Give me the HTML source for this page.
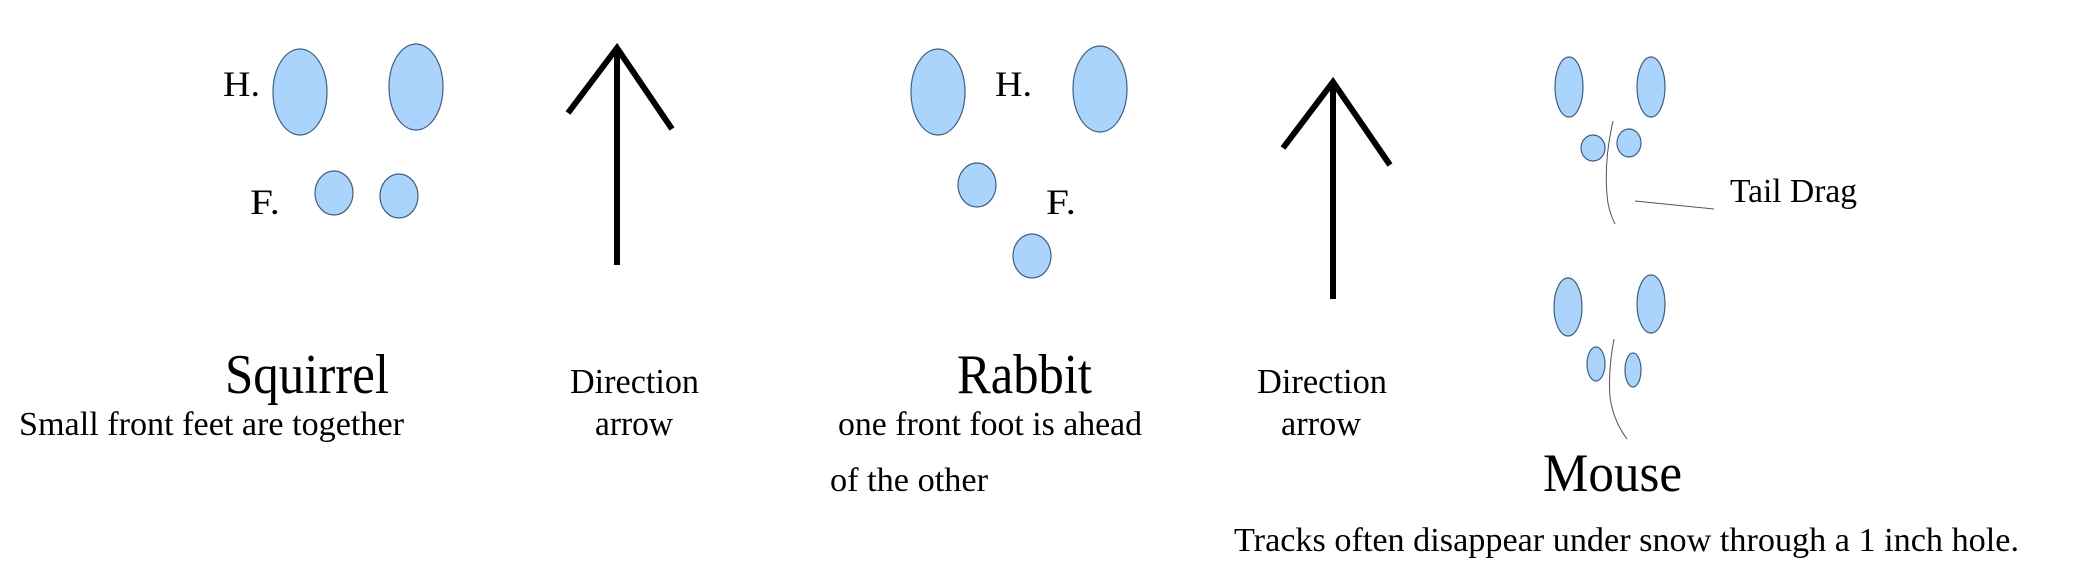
<!DOCTYPE html>
<html><head><meta charset="utf-8"><style>html,body{margin:0;padding:0;background:#fff;}svg{display:block}</style></head>
<body>
<svg width="2084" height="564" viewBox="0 0 2084 564" xmlns="http://www.w3.org/2000/svg" font-family="'Liberation Serif', serif" fill="#000">
<g fill="#aad4fb" stroke="#3f5f80" stroke-width="1.2">
<ellipse cx="300" cy="92" rx="27" ry="43"/>
<ellipse cx="416" cy="87" rx="27" ry="43"/>
<ellipse cx="334" cy="193" rx="19" ry="22"/>
<ellipse cx="399" cy="196" rx="19" ry="22"/>
<ellipse cx="938" cy="92" rx="27" ry="43"/>
<ellipse cx="1100" cy="89" rx="27" ry="43"/>
<ellipse cx="977" cy="185" rx="19" ry="22"/>
<ellipse cx="1032" cy="256" rx="19" ry="22"/>
<ellipse cx="1569" cy="87" rx="14" ry="30"/>
<ellipse cx="1651" cy="87" rx="14" ry="30"/>
<ellipse cx="1593" cy="148" rx="12" ry="13"/>
<ellipse cx="1629" cy="143" rx="12" ry="14"/>
<ellipse cx="1568" cy="307" rx="14" ry="29"/>
<ellipse cx="1651" cy="304" rx="14" ry="29"/>
<ellipse cx="1596" cy="364" rx="9" ry="17"/>
<ellipse cx="1633" cy="370" rx="8" ry="17"/>
</g>
<g stroke="#000" stroke-width="6" fill="none">
<line x1="617" y1="48" x2="617" y2="265"/>
<polyline points="568,113 617,48 672,129"/>
<line x1="1333" y1="82" x2="1333" y2="299"/>
<polyline points="1283,148 1333,82 1390,165"/>
</g>
<g stroke="#555" stroke-width="1" fill="none">
<path d="M1613,121 Q1604,160 1607,195 Q1608,210 1615,224"/>
<path d="M1614,339 Q1608,370 1610,397 Q1613,420 1627,439"/>
<line x1="1635" y1="201" x2="1714" y2="209"/>
</g>
<text x="223" y="96" font-size="36" textLength="37" lengthAdjust="spacingAndGlyphs">H.</text>
<text x="250" y="214" font-size="36" textLength="30" lengthAdjust="spacingAndGlyphs">F.</text>
<text x="995" y="96" font-size="36" textLength="37" lengthAdjust="spacingAndGlyphs">H.</text>
<text x="1046" y="214" font-size="36" textLength="30" lengthAdjust="spacingAndGlyphs">F.</text>
<text x="225" y="393" font-size="56" textLength="164" lengthAdjust="spacingAndGlyphs">Squirrel</text>
<text x="19" y="435" font-size="34" textLength="385" lengthAdjust="spacingAndGlyphs">Small front feet are together</text>
<text x="570" y="393" font-size="35" textLength="129" lengthAdjust="spacingAndGlyphs">Direction</text>
<text x="595" y="435" font-size="35" textLength="78" lengthAdjust="spacingAndGlyphs">arrow</text>
<text x="957" y="393" font-size="56" textLength="135" lengthAdjust="spacingAndGlyphs">Rabbit</text>
<text x="838" y="435" font-size="34" textLength="304" lengthAdjust="spacingAndGlyphs">one front foot is ahead</text>
<text x="830" y="491" font-size="34" textLength="158" lengthAdjust="spacingAndGlyphs">of the other</text>
<text x="1257" y="393" font-size="35" textLength="130" lengthAdjust="spacingAndGlyphs">Direction</text>
<text x="1281" y="435" font-size="35" textLength="80" lengthAdjust="spacingAndGlyphs">arrow</text>
<text x="1730" y="202" font-size="34" textLength="127" lengthAdjust="spacingAndGlyphs">Tail Drag</text>
<text x="1543" y="491" font-size="54" textLength="139" lengthAdjust="spacingAndGlyphs">Mouse</text>
<text x="1234" y="551" font-size="34" textLength="785" lengthAdjust="spacingAndGlyphs">Tracks often disappear under snow through a 1 inch hole.</text>
</svg>
</body></html>
